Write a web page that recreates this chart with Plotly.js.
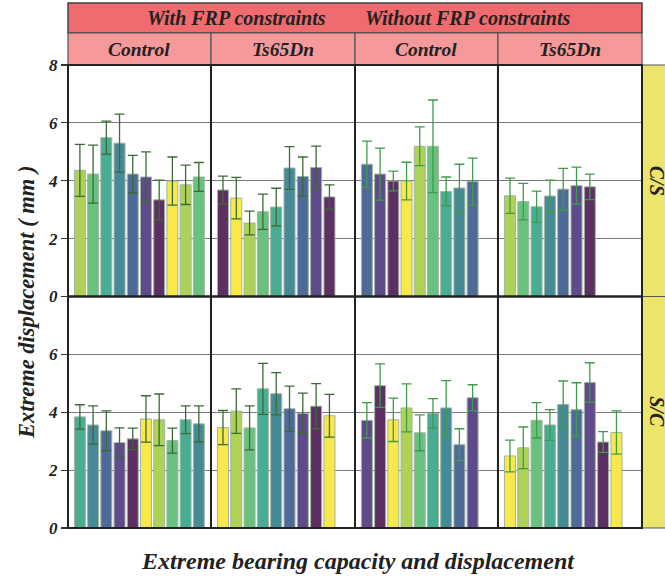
<!DOCTYPE html>
<html>
<head>
<meta charset="utf-8">
<script src="https://cdn.plot.ly/plotly-3.0.1.min.js"></script>
<style>html,body{margin:0;padding:0;background:#fff;}#chart{width:665px;height:579px;}</style>
</head>
<body>
<div id="chart"></div>
<script>
// ---- data ----
const SAMPLES = ['1','2','3','4','5','6','7','8','9','10'];
const GROUPS = ['Control','Ts65Dn','Control','Ts65Dn'];
const CONSTRAINT_LABELS = ['With FRP constraints','Without FRP constraints'];
const ROWS = ['C/S','S/C'];

const cs_frp_control      = [4.36,4.23,5.49,5.30,4.23,4.13,3.34,3.99,3.86,4.13];
const cs_frp_control_err  = [0.90,1.00,0.57,1.00,0.65,0.87,0.68,0.83,0.68,0.50];
const cs_frp_ts65         = [3.68,3.40,2.54,2.93,3.09,4.44,4.15,4.46,3.44];
const cs_frp_ts65_err     = [0.48,0.72,0.41,0.61,0.65,0.74,0.67,0.74,0.42];
const cs_nofrp_control    = [4.57,4.23,3.99,3.99,5.19,5.19,3.63,3.75,3.97];
const cs_nofrp_control_err= [0.80,0.90,0.34,0.65,0.67,1.60,0.50,0.82,0.81];
const cs_nofrp_ts65       = [3.48,3.28,3.10,3.47,3.71,3.83,3.79];
const cs_nofrp_ts65_err   = [0.61,0.63,0.54,0.55,0.72,0.64,0.44];

const sc_frp_control      = [3.84,3.56,3.36,2.95,3.08,3.77,3.74,3.02,3.74,3.60];
const sc_frp_control_err  = [0.42,0.66,0.69,0.51,0.37,0.80,0.89,0.43,0.48,0.62];
const sc_frp_ts65         = [3.47,4.04,3.46,4.81,4.64,4.12,3.96,4.21,3.88];
const sc_frp_ts65_err     = [0.59,0.77,0.76,0.88,0.73,0.78,0.70,0.78,0.74];
const sc_nofrp_control    = [3.72,4.92,3.74,4.15,3.29,3.96,4.15,2.88,4.50];
const sc_nofrp_control_err= [0.61,0.75,0.75,0.83,0.62,0.51,0.94,0.55,0.45];
const sc_nofrp_ts65       = [2.49,2.77,3.72,3.56,4.27,4.09,5.03,2.97,3.30];
const sc_nofrp_ts65_err   = [0.55,0.72,0.61,0.53,0.81,0.93,0.68,0.36,0.75];

// ---- styles ----
const PAL = {Y:'#F8E84A', YG:'#ADD256', G:'#68C27E', T:'#48AD93', BT:'#468A98', B:'#4E6A98', P:'#5F4A8B', DP:'#5E2F63'};
const colSeq = [
  ['YG','G','T','BT','B','P','DP','Y','YG','G'],
  ['DP','Y','YG','G','T','BT','B','P','DP'],
  ['B','P','DP','Y','YG','G','T','BT','B'],
  ['YG','G','T','BT','B','P','DP'],
  ['T','BT','B','P','DP','Y','YG','G','T','BT'],
  ['Y','YG','G','T','BT','B','P','DP','Y'],
  ['P','DP','Y','YG','G','T','BT','B','P'],
  ['Y','YG','G','T','BT','B','P','DP','Y']
];
const errCol = ['#3A6A34','#3A6A34','#3E9C48','#3E9C48','#3A6A34','#3A6A34','#3E9C48','#3E9C48'];

const panels = [
  [cs_frp_control, cs_frp_control_err],
  [cs_frp_ts65, cs_frp_ts65_err],
  [cs_nofrp_control, cs_nofrp_control_err],
  [cs_nofrp_ts65, cs_nofrp_ts65_err],
  [sc_frp_control, sc_frp_control_err],
  [sc_frp_ts65, sc_frp_ts65_err],
  [sc_nofrp_control, sc_nofrp_control_err],
  [sc_nofrp_ts65, sc_nofrp_ts65_err]
];

const SERIF = 'Liberation Serif, Times New Roman, serif';
const xd = [[0,0.2491],[0.2491,0.5],[0.5,0.7491],[0.7491,1]];
const yTop = [0.5,1], yBot = [0,0.5];

const traces = [];
const layout = {
  width:665, height:579,
  margin:{l:68,r:23,t:65,b:51},
  paper_bgcolor:'#fff', plot_bgcolor:'#fff',
  showlegend:false, bargap:0.17,
  shapes:[], annotations:[]
};

panels.forEach((p,i)=>{
  const n = i+1;
  const xa = n===1 ? 'x' : 'x'+n;
  const ya = i<4 ? 'y' : 'y2';
  traces.push({
    type:'bar',
    x: SAMPLES.slice(0,p[0].length),
    y: p[0],
    xaxis:xa, yaxis:ya,
    marker:{color: colSeq[i].map(k=>PAL[k]), line:{color:'#A3B3A3', width:1}},
    error_y:{type:'data', array:p[1], visible:true, color:errCol[i], thickness:1.3, width:5},
    hoverinfo:'skip'
  });
  layout['xaxis'+(n===1?'':n)] = {
    domain: xd[i%4], anchor: ya,
    type:'category', categoryarray:SAMPLES, categoryorder:'array',
    range:[-0.9,9.92], showticklabels:false, ticks:'', showgrid:false, zeroline:false, showline:false, fixedrange:true
  };
});

const tickfont = {family:SERIF, size:17, color:'#222', weight:'bold', style:'italic'};
layout.yaxis = {domain:yTop, anchor:'x', range:[0,8], tickvals:[0,2,4,6,8], ticks:'outside', ticklen:6, tickcolor:'#333', tickwidth:1.2,
  showgrid:true, gridcolor:'#7a7a7a', gridwidth:1, zeroline:false, tickfont:tickfont, fixedrange:true};
layout.yaxis2 = {domain:yBot, anchor:'x5', range:[0,8], tickvals:[0,2,4,6], ticks:'outside', ticklen:6, tickcolor:'#333', tickwidth:1.2,
  showgrid:true, gridcolor:'#7a7a7a', gridwidth:1, zeroline:false, tickfont:tickfont, fixedrange:true};

// pixel -> paper helpers
const px = v => (v-68)/574;
const py = v => (528-v)/463;

// header strips
layout.shapes.push({type:'rect', xref:'paper', yref:'paper', x0:0, x1:1, y0:py(33), y1:py(3), fillcolor:'#EF6B6E', line:{color:'#444', width:1.5}, layer:'below'});
xd.forEach(d=>{
  layout.shapes.push({type:'rect', xref:'paper', yref:'paper', x0:d[0], x1:d[1], y0:1, y1:py(33), fillcolor:'#F5999B', line:{color:'#555', width:1.2}, layer:'below'});
});
// right strips
[yTop,yBot].forEach(d=>{
  layout.shapes.push({type:'rect', xref:'paper', yref:'paper', x0:1, x1:px(672), y0:d[0], y1:d[1], fillcolor:'#EBE56C', line:{color:'#555', width:1}, layer:'below'});
});
// panel borders
[yTop,yBot].forEach(yd=>{
  xd.forEach(d=>{
    layout.shapes.push({type:'rect', xref:'paper', yref:'paper', x0:d[0], x1:d[1], y0:yd[0], y1:yd[1], line:{color:'#222', width:2}, fillcolor:'rgba(0,0,0,0)', layer:'above'});
  });
});

function ann(x,y,text,font,angle){
  return {xref:'paper', yref:'paper', x:x, y:y, xanchor:'center', yanchor:'middle', text:text, showarrow:false, font:font, textangle:angle||0};
}
const stripFont = {family:SERIF, size:20, color:'#222', weight:'bold', style:'italic'};
layout.annotations.push(ann(px(236), py(18), CONSTRAINT_LABELS[0], stripFont));
layout.annotations.push(ann(px(467), py(18), CONSTRAINT_LABELS[1], stripFont));
GROUPS.forEach((g,i)=>{
  layout.annotations.push(ann((xd[i][0]+xd[i][1])/2, py(49), g, {family:SERIF, size:19.5, color:'#222', weight:'bold', style:'italic'}));
});
ROWS.forEach((r,i)=>{
  const d = i===0?yTop:yBot;
  layout.annotations.push(ann(px(657), (d[0]+d[1])/2, r, {family:SERIF, size:20, color:'#222', weight:'bold', style:'italic'}, 90));
});
layout.annotations.push(ann(px(26), py(303), 'Extreme displacement ( mm )', {family:SERIF, size:22.5, color:'#222', weight:'bold', style:'italic'}, -90));
layout.annotations.push(ann(px(358), py(561), 'Extreme bearing capacity and displacement', {family:SERIF, size:24, color:'#222', weight:'bold', style:'italic'}));

Plotly.newPlot('chart', traces, layout, {displayModeBar:false, staticPlot:true});
</script>
</body>
</html>
